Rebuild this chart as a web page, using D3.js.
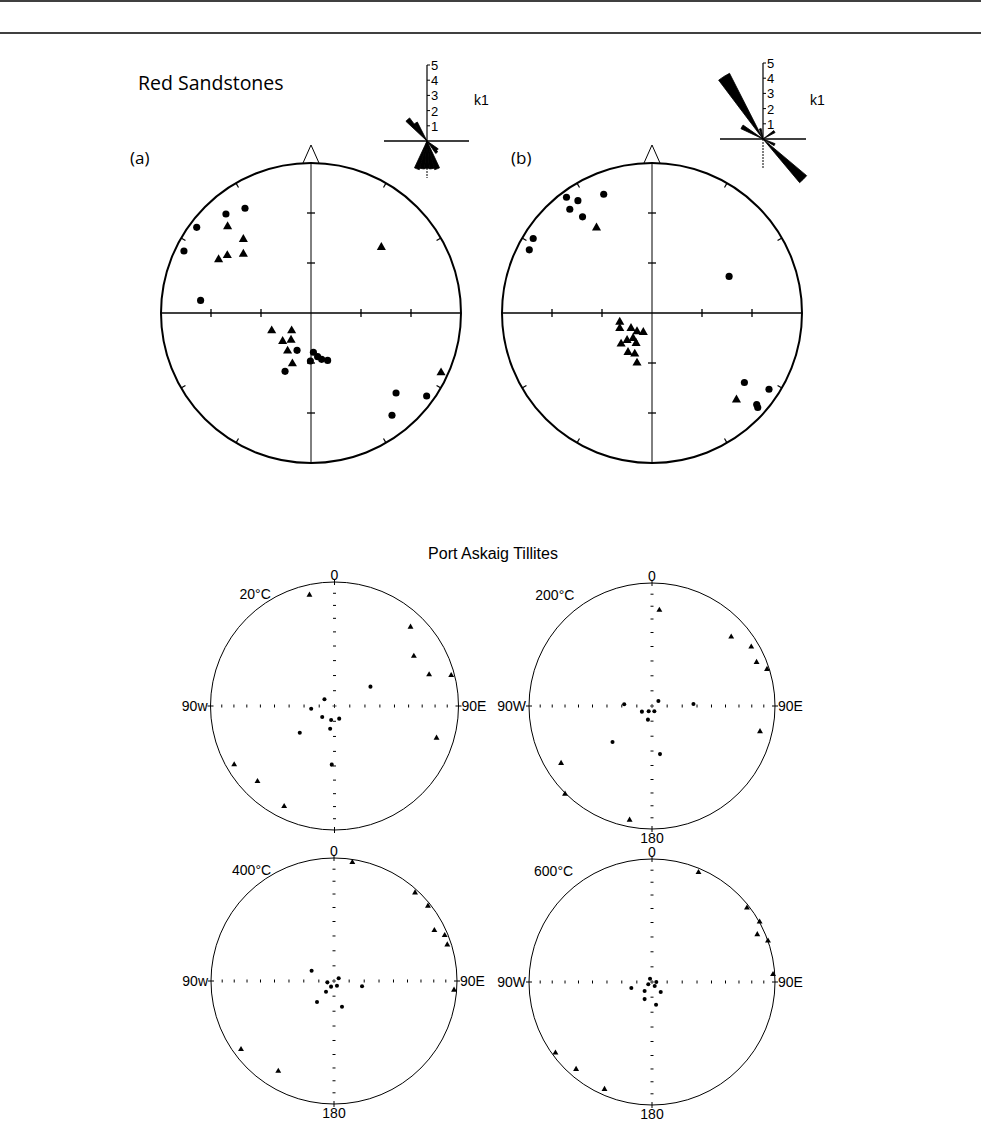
<!DOCTYPE html>
<html>
<head>
<meta charset="utf-8">
<script src="https://cdn.jsdelivr.net/npm/d3@7"></script>
<style>
  body { margin: 0; background: #fff; }
  svg { display: block; }
  text { font-family: "Liberation Sans", Arial, sans-serif; fill: #000; }
</style>
</head>
<body>
<svg id="chart" width="981" height="1122"></svg>
<script>
// ---- Red Sandstones: projected positions [east, north], unit circle ----
const sandA_circles = [
  [-0.44, 0.698], [-0.567, 0.66], [-0.762, 0.571], [-0.847, 0.413], [-0.736, 0.084],
  [-0.093, -0.249], [-0.173, -0.389], [-0.004, -0.32], [0.016, -0.262], [0.044, -0.291],
  [0.071, -0.309], [0.111, -0.316], [0.567, -0.533], [0.771, -0.553], [0.54, -0.682]
];
const sandA_triangles = [
  [-0.556, 0.576], [-0.451, 0.491], [-0.558, 0.384], [-0.616, 0.356], [-0.451, 0.393],
  [0.469, 0.438], [-0.262, -0.118], [-0.129, -0.118], [-0.189, -0.189], [-0.133, -0.18],
  [-0.156, -0.253], [-0.124, -0.338], [0.867, -0.398]
];
const sandB_circles = [
  [-0.322, 0.792], [-0.57, 0.772], [-0.494, 0.749], [-0.548, 0.692], [-0.463, 0.641],
  [-0.792, 0.497], [-0.818, 0.421], [0.514, 0.244], [0.616, -0.463], [0.78, -0.508],
  [0.698, -0.61], [0.705, -0.63]
];
const sandB_triangles = [
  [-0.37, 0.568], [-0.215, -0.06], [-0.215, -0.102], [-0.14, -0.102], [-0.1, -0.124],
  [-0.058, -0.129], [-0.206, -0.206], [-0.166, -0.182], [-0.126, -0.169], [-0.106, -0.202],
  [-0.16, -0.262], [-0.115, -0.273], [-0.1, -0.333], [0.563, -0.579]
];

// ---- k1 rose diagrams: [azimuth of bin centre, count] ----
const roseA = [
  [318, 1.9], [328, 1.4],
  [130, 0.9], [140, 1.0],
  [160, 1.95], [170, 1.85], [180, 1.8], [190, 1.85], [200, 1.95]
];
const roseB = [
  [328, 4.85], [135, 3.75], [300, 1.6], [345, 0.7], [57, 0.9], [116, 0.85]
];
const roseTicks = [1, 2, 3, 4, 5];

// ---- Port Askaig Tillites, thermal steps ----
const askaigSteps = ['20°C', '200°C', '400°C', '600°C'];
const askaig20_tri = [
  [-0.202, 0.895], [0.613, 0.637], [0.64, 0.403], [0.763, 0.253], [0.941, 0.247],
  [0.823, -0.258], [-0.809, -0.473], [-0.621, -0.608], [-0.406, -0.809]
];
const askaig20_dot = [
  [0.29, 0.156], [-0.081, 0.054], [-0.188, -0.022], [-0.099, -0.089], [-0.027, -0.113],
  [0.038, -0.102], [-0.035, -0.183], [-0.28, -0.215], [-0.022, -0.473]
];
const askaig200_tri = [
  [0.06, 0.78], [0.644, 0.5625], [0.807, 0.481], [0.85, 0.356], [0.935, 0.299],
  [0.878, -0.207], [-0.739, -0.465], [-0.707, -0.715], [-0.182, -0.927]
];
const askaig200_dot = [
  [-0.226, 0.014], [0.052, 0.041], [0.337, 0.016], [-0.082, -0.046], [-0.027, -0.043],
  [0.019, -0.043], [-0.033, -0.111], [-0.321, -0.293], [0.065, -0.391]
];
const askaig400_tri = [
  [0.149, 0.965], [0.659, 0.718], [0.764, 0.61], [0.816, 0.412], [0.9, 0.371],
  [0.921, 0.295], [0.976, -0.073], [-0.756, -0.556], [-0.453, -0.732]
];
const askaig400_dot = [
  [-0.182, 0.084], [-0.054, -0.011], [0.038, 0.022], [-0.024, -0.046], [0.024, -0.038],
  [-0.065, -0.087], [0.228, -0.043], [-0.138, -0.171], [0.065, -0.209]
];
const askaig600_tri = [
  [0.378, 0.891], [0.772, 0.603], [0.875, 0.489], [0.856, 0.386], [0.943, 0.334],
  [0.984, 0.0625], [-0.785, -0.576], [-0.617, -0.709], [-0.386, -0.872]
];
const askaig600_dot = [
  [-0.016, 0.027], [0.035, 0], [-0.03, -0.019], [0.022, -0.033], [-0.168, -0.049],
  [0.071, -0.082], [-0.06, -0.073], [-0.06, -0.139], [0.033, -0.185]
];
const inclinationTicks = [80, 70, 60, 50, 40, 30, 20, 10];

const svg = d3.select('#chart');

// page rules
svg.append('line').attr('x1', 0).attr('x2', 981).attr('y1', 1).attr('y2', 1)
  .attr('stroke', '#000').attr('stroke-width', 1.5);
svg.append('line').attr('x1', 0).attr('x2', 981).attr('y1', 33).attr('y2', 33)
  .attr('stroke', '#000').attr('stroke-width', 1.5);

function drawSymbols(g, x, y, pts, type, size) {
  g.selectAll(null)
    .data(pts)
    .join('path')
    .attr('transform', d => `translate(${x(d[0])},${y(d[1])})`)
    .attr('d', d3.symbol().type(type).size(size))
    .attr('fill', '#000');
}

// ---- big stereonets ----
function sandstoneNet(cx, cy, r, circles, triangles) {
  const x = d3.scaleLinear().domain([-1, 1]).range([cx - r, cx + r]);
  const y = d3.scaleLinear().domain([-1, 1]).range([cy + r, cy - r]);
  const g = svg.append('g');

  g.append('circle').attr('cx', cx).attr('cy', cy).attr('r', r)
    .attr('fill', 'none').attr('stroke', '#000').attr('stroke-width', 2);

  // rim ticks every 30 degrees
  d3.range(30, 360, 30).filter(a => a % 90 !== 0).forEach(a => {
    const t = a * Math.PI / 180;
    g.append('line')
      .attr('x1', cx + r * Math.sin(t)).attr('y1', cy - r * Math.cos(t))
      .attr('x2', cx + (r - 5) * Math.sin(t)).attr('y2', cy - (r - 5) * Math.cos(t))
      .attr('stroke', '#000').attr('stroke-width', 1.2);
  });

  g.append('line').attr('x1', x(-1)).attr('x2', x(1)).attr('y1', y(0)).attr('y2', y(0))
    .attr('stroke', '#000').attr('stroke-width', 1.6);
  g.append('line').attr('x1', x(0)).attr('x2', x(0)).attr('y1', y(1)).attr('y2', y(-1))
    .attr('stroke', '#000').attr('stroke-width', 1);

  const axisTicks = [-2 / 3, -1 / 3, 1 / 3, 2 / 3];
  g.selectAll(null).data(axisTicks).join('line')
    .attr('x1', d => x(d)).attr('x2', d => x(d))
    .attr('y1', y(0) - 4).attr('y2', y(0) + 4)
    .attr('stroke', '#000').attr('stroke-width', 1.3);
  g.selectAll(null).data(axisTicks).join('line')
    .attr('x1', x(0) - 4).attr('x2', x(0) + 4)
    .attr('y1', d => y(d)).attr('y2', d => y(d))
    .attr('stroke', '#000').attr('stroke-width', 1.3);

  // north marker
  g.append('path')
    .attr('d', `M${cx - 8},${cy - r} L${cx},${cy - r - 18} L${cx + 8},${cy - r}`)
    .attr('fill', 'none').attr('stroke', '#000').attr('stroke-width', 1);

  drawSymbols(g, x, y, circles, d3.symbolCircle, 40);
  drawSymbols(g, x, y, triangles, d3.symbolTriangle, 36);
}

// ---- rose diagrams ----
function rose(cx, cy, petals, left, right, tail, labelX) {
  const len = d3.scaleLinear().domain([0, 5]).range([0, 76]);
  const g = svg.append('g').attr('transform', `translate(${cx},${cy})`);

  g.append('line').attr('x1', left - cx).attr('x2', right - cx).attr('y1', 0).attr('y2', 0)
    .attr('stroke', '#000').attr('stroke-width', 1.3);
  g.append('line').attr('x1', 0).attr('x2', 0).attr('y1', -len(5)).attr('y2', 0)
    .attr('stroke', '#000').attr('stroke-width', 1.2);
  g.append('line').attr('x1', 0).attr('x2', 0).attr('y1', 0).attr('y2', tail)
    .attr('stroke', '#000').attr('stroke-width', 1).attr('stroke-dasharray', '2,1');

  g.selectAll(null).data(roseTicks).join('line')
    .attr('x1', 0).attr('x2', 3).attr('y1', d => -len(d)).attr('y2', d => -len(d))
    .attr('stroke', '#000');
  g.selectAll(null).data(roseTicks).join('text')
    .attr('x', 4).attr('y', d => -len(d) + 5)
    .attr('font-size', 13)
    .text(d => d);

  const arc = d3.arc()
    .innerRadius(0)
    .outerRadius(d => len(d[1]))
    .startAngle(d => (d[0] - 5) * Math.PI / 180)
    .endAngle(d => (d[0] + 5) * Math.PI / 180);
  g.selectAll(null).data(petals).join('path')
    .attr('d', arc).attr('fill', '#000')
    .attr('stroke', '#000').attr('stroke-width', 0.8).attr('stroke-linejoin', 'round');

  svg.append('text').attr('x', labelX).attr('y', 105).attr('font-size', 14).text('k1');
}

svg.append('text').attr('x', 138).attr('y', 90)
  .style('font-family', '"Open Sans", sans-serif').attr('font-size', 19.5)
  .text('Red Sandstones');
svg.append('text').attr('x', 130).attr('y', 164)
  .style('font-family', '"Open Sans", sans-serif').attr('font-size', 17).text('(a)');
svg.append('text').attr('x', 511).attr('y', 164)
  .style('font-family', '"Open Sans", sans-serif').attr('font-size', 17).text('(b)');

sandstoneNet(311, 313, 150, sandA_circles, sandA_triangles);
sandstoneNet(652, 313, 150, sandB_circles, sandB_triangles);
rose(427, 141, roseA, 384, 469, 37, 474);
rose(763, 139, roseB, 720, 806, 29, 810);

// ---- Port Askaig equal-area nets ----
svg.append('text').attr('x', 493).attr('y', 559).attr('text-anchor', 'middle')
  .attr('font-size', 16).text('Port Askaig Tillites');

const eqArea = inc => Math.SQRT2 * Math.sin((90 - inc) / 2 * Math.PI / 180);

function askaigNet(cx, cy, r, step, stepX, tri, dot, west, showSouth) {
  const x = d3.scaleLinear().domain([-1, 1]).range([cx - r, cx + r]);
  const y = d3.scaleLinear().domain([-1, 1]).range([cy + r, cy - r]);
  const g = svg.append('g');

  g.append('circle').attr('cx', cx).attr('cy', cy).attr('r', r)
    .attr('fill', 'none').attr('stroke', '#000').attr('stroke-width', 1);

  const ticks = inclinationTicks.map(eqArea);
  const both = ticks.concat(ticks.map(v => -v));
  g.selectAll(null).data(both).join('line')
    .attr('x1', d => x(d)).attr('x2', d => x(d))
    .attr('y1', cy - 1.5).attr('y2', cy + 1.5)
    .attr('stroke', '#000').attr('stroke-width', 1);
  g.selectAll(null).data(both).join('line')
    .attr('x1', cx - 1.5).attr('x2', cx + 1.5)
    .attr('y1', d => y(d)).attr('y2', d => y(d))
    .attr('stroke', '#000').attr('stroke-width', 1);
  g.append('path')
    .attr('d', `M${cx - 2},${cy}H${cx + 2}M${cx},${cy - 2}V${cy + 2}`)
    .attr('stroke', '#000').attr('stroke-width', 0.8);

  // cardinal ticks on the rim
  [[0, -1], [0, 1], [-1, 0], [1, 0]].forEach(([dx, dy]) => {
    g.append('line')
      .attr('x1', cx + dx * (r - 3)).attr('y1', cy + dy * (r - 3))
      .attr('x2', cx + dx * (r + 3)).attr('y2', cy + dy * (r + 3))
      .attr('stroke', '#000').attr('stroke-width', 1);
  });

  g.append('text').attr('x', cx - r - 3).attr('y', cy + 5).attr('text-anchor', 'end')
    .attr('font-size', 14).text(west);
  g.append('text').attr('x', cx + r + 3).attr('y', cy + 5)
    .attr('font-size', 14).text('90E');
  g.append('text').attr('x', cx).attr('y', cy - r - 2).attr('text-anchor', 'middle')
    .attr('font-size', 14).text('0');
  if (showSouth) {
    g.append('text').attr('x', cx).attr('y', cy + r + 14).attr('text-anchor', 'middle')
      .attr('font-size', 14).text('180');
  }
  g.append('text').attr('x', cx - stepX * r).attr('y', cy - r + 17).attr('text-anchor', 'middle')
    .attr('font-size', 14).text(step);

  drawSymbols(g, x, y, dot, d3.symbolCircle, 13);
  drawSymbols(g, x, y, tri, d3.symbolTriangle, 15);
}

askaigNet(334.5, 706, 124, askaigSteps[0], 0.64, askaig20_tri, askaig20_dot, '90w', false);
askaigNet(652, 706, 123, askaigSteps[1], 0.79, askaig200_tri, askaig200_dot, '90W', true);
askaigNet(334, 981, 123, askaigSteps[2], 0.67, askaig400_tri, askaig400_dot, '90w', true);
askaigNet(652, 982, 123, askaigSteps[3], 0.8, askaig600_tri, askaig600_dot, '90W', true);
</script>
</body>
</html>
